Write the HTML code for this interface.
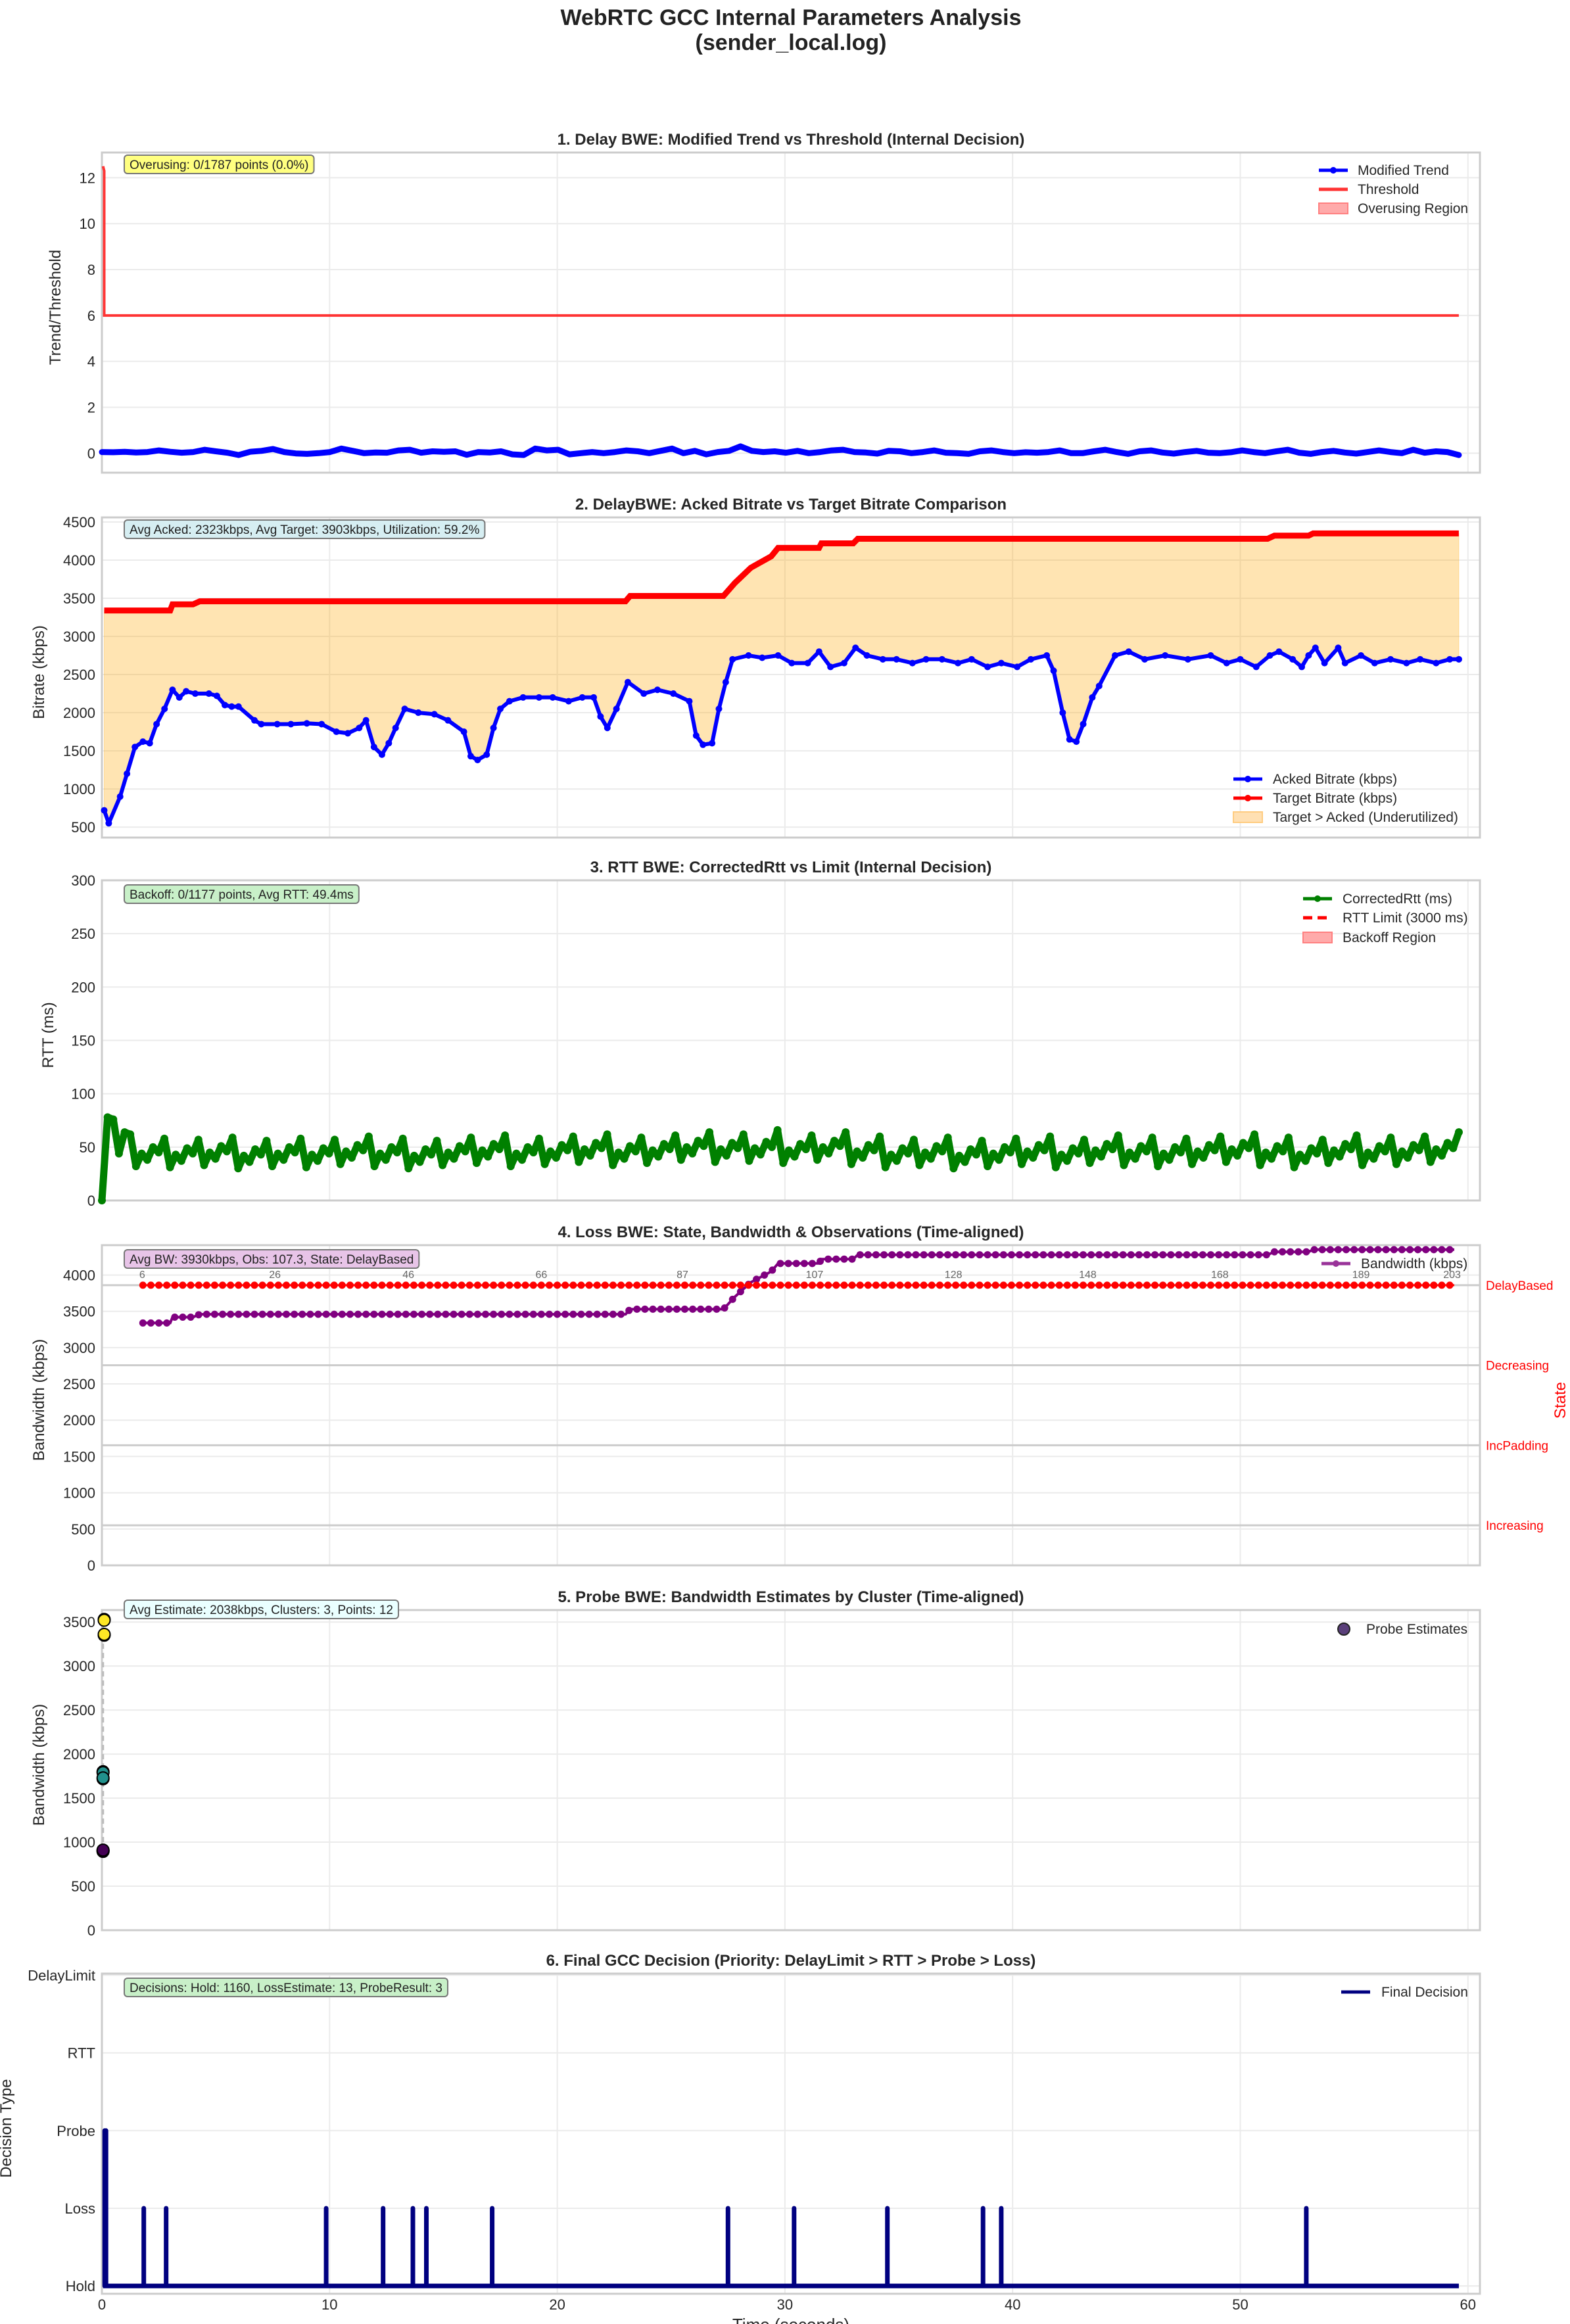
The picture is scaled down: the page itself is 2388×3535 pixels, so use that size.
<!DOCTYPE html>
<html><head><meta charset="utf-8"><style>
html,body{margin:0;padding:0;background:#fff}
svg{display:block;font-family:"Liberation Sans",Arial,sans-serif}
</style></head><body>
<svg id="fig" width="2388" height="3535" viewBox="0 0 2388 3535" xmlns="http://www.w3.org/2000/svg">
<rect width="2388" height="3535" fill="#fff"/>
<text x="1203" y="38" text-anchor="middle" font-size="34" font-weight="bold" fill="#222">WebRTC GCC Internal Parameters Analysis</text>
<text x="1203" y="76" text-anchor="middle" font-size="34" font-weight="bold" fill="#222">(sender_local.log)</text>
<g id="layer"></g>
</svg>
<script>
// ---------- data ----------
const trendV = [0.05,0.04,0.06,0.03,0.05,0.12,0.06,0.02,0.05,0.15,0.08,0.02,-0.08,0.06,0.1,0.18,0.05,-0.01,-0.03,0.0,0.05,0.2,0.1,0.0,0.03,0.02,0.12,0.15,0.02,0.08,0.06,0.08,-0.07,0.05,0.03,0.08,-0.05,-0.08,0.2,0.12,0.15,-0.05,0.0,0.05,0.0,0.05,0.12,0.08,0.0,0.1,0.2,0.0,0.1,-0.05,0.05,0.1,0.3,0.1,0.05,0.08,0.02,0.1,0.0,0.05,0.12,0.15,0.05,0.03,-0.02,0.1,0.08,0.0,0.05,0.12,0.02,0.0,-0.03,0.08,0.12,0.05,0.0,0.04,0.02,0.05,0.12,0.0,0.0,0.08,0.15,0.05,-0.03,0.08,0.12,0.03,-0.02,0.05,0.1,0.02,0.0,0.04,0.12,0.05,0.0,0.08,0.15,0.02,-0.03,0.05,0.1,0.03,-0.02,0.05,0.12,0.05,0.0,0.15,0.02,0.08,0.05,-0.08];
const trendStart = 0.0, trendEnd = 59.6;
const thT = [0.05,0.1,0.1,59.6];
const thV = [12.5,12.3,6,6];

const targetT = [0.1,3.0,3.1,4.0,4.3,23.0,23.2,27.3,27.8,28.5,29.4,29.7,31.5,31.6,33.0,33.2,51.2,51.5,53.0,53.2,59.6];
const targetV = [3340,3340,3420,3420,3460,3460,3530,3530,3700,3900,4050,4160,4160,4220,4220,4280,4280,4320,4320,4350,4350];
const ackedT = [0.1,0.3,0.8,1.1,1.45,1.8,2.1,2.4,2.75,3.1,3.4,3.7,4.1,4.7,5.05,5.4,5.7,6.0,6.7,7.0,7.7,8.3,9.0,9.65,10.3,10.8,11.3,11.6,11.95,12.3,12.6,12.9,13.3,13.9,14.6,15.2,15.9,16.2,16.5,16.9,17.2,17.5,17.9,18.5,19.2,19.8,20.5,21.1,21.6,21.9,22.2,22.6,23.1,23.8,24.4,25.1,25.8,26.1,26.4,26.8,27.1,27.4,27.7,28.4,29.0,29.7,30.3,31.0,31.5,32.0,32.6,33.1,33.6,34.3,34.9,35.6,36.2,36.9,37.6,38.2,38.9,39.5,40.2,40.8,41.5,41.8,42.2,42.5,42.8,43.1,43.5,43.8,44.5,45.1,45.8,46.7,47.7,48.7,49.4,50.0,50.7,51.3,51.7,52.3,52.7,53.0,53.3,53.7,54.3,54.6,55.3,55.9,56.6,57.3,57.9,58.6,59.2,59.6];
const ackedV = [720,550,900,1200,1550,1620,1600,1850,2050,2300,2200,2280,2250,2250,2220,2100,2080,2080,1900,1850,1850,1850,1860,1850,1750,1730,1800,1900,1550,1450,1600,1800,2050,2000,1980,1900,1750,1430,1380,1450,1800,2050,2150,2200,2200,2200,2150,2200,2200,1950,1800,2050,2400,2250,2300,2250,2150,1700,1580,1600,2050,2400,2700,2750,2720,2750,2650,2650,2800,2600,2650,2850,2750,2700,2700,2650,2700,2700,2650,2700,2600,2650,2600,2700,2750,2550,2000,1650,1620,1850,2200,2350,2750,2800,2700,2750,2700,2750,2650,2700,2600,2750,2800,2700,2600,2750,2850,2650,2850,2650,2750,2650,2700,2650,2700,2650,2700,2700];

const rttV = [0,78,76,44,64,62,
32,44,38,50,45,58, 31,43,37,49,44,57, 33,45,39,51,46,59, 30,42,36,48,43,56, 32,44,38,50,45,58,
31,43,37,49,44,57, 34,46,40,52,47,60, 32,44,38,50,45,58, 30,42,36,48,43,56, 33,45,39,51,46,59,
35,47,41,53,48,61, 32,44,38,50,45,58, 34,46,40,52,47,60, 36,48,42,54,49,62, 33,45,39,51,46,59,
35,47,41,53,48,61, 38,50,44,56,51,64, 36,48,42,54,49,62, 37,49,43,55,50,66, 35,47,41,53,48,61,
38,50,44,56,51,64, 34,46,40,52,47,60, 31,43,37,49,44,57, 33,45,39,51,46,59, 30,42,36,48,43,56,
32,44,38,50,45,58, 34,46,40,52,47,60, 31,43,37,49,44,57, 35,47,41,53,48,61, 33,45,39,51,46,59,
32,44,38,50,45,58, 34,46,40,52,47,60, 36,48,42,54,49,62, 33,45,39,51,46,59, 31,43,37,49,44,57,
35,47,41,53,48,61, 33,45,39,51,46,59, 34,46,40,52,47,60, 36,48,42,54,49,64];
const rttStart = 0.0, rttEnd = 59.6;

const bwT = [1.8,3.0,3.1,4.0,4.3,23.0,23.2,27.3,27.8,28.5,29.4,29.7,31.5,31.6,33.0,33.2,51.2,51.5,53.0,53.2,59.4];
const bwV = [3340,3340,3420,3420,3460,3460,3530,3530,3700,3900,4050,4160,4160,4220,4220,4280,4280,4320,4320,4350,4350];
const stateNames = ["Increasing","IncPadding","Decreasing","DelayBased"];
const stateRunT = [1.8,59.4];
const stateRunV = [3];
const idxLabels = [6,26,46,66,87,107,128,148,168,189,203];
const idxT = [1.77,7.6,13.46,19.3,25.5,31.3,37.4,43.3,49.1,55.3,59.3];

const probeT = [0.1,0.1,0.1,0.1,0.05,0.05,0.05,0.05,0.05,0.05,0.05,0.05];
const probeV = [3530,3520,3350,3360,1800,1790,1720,1730,900,905,895,910];
const probeCluster = [2,2,2,2,1,1,1,1,0,0,0,0];

const decisionNames = ["Hold","Loss","Probe","RTT","DelayLimit"];
const spikeT = [0.12,0.18,1.84,2.82,9.85,12.35,13.66,14.25,17.14,27.5,30.4,34.5,38.7,39.5,52.9];
const spikeV = [2,2,1,1,1,1,1,1,1,1,1,1,1,1,1];
const decStart = 0.05, decEnd = 59.6;

// ---------- layout ----------
const NS="http://www.w3.org/2000/svg";
const layer=document.getElementById('layer');
const X0=155, X1=2251, PXS=34.63, PH=487;
function sx(t){return X0+t*PXS;}
const panels=[
 {top:232,ymin:-0.85,ymax:13.1},
 {top:787,ymin:363,ymax:4560},
 {top:1339,ymin:0,ymax:300},
 {top:1894,ymin:0,ymax:4412},
 {top:2449,ymin:0,ymax:3636},
 {top:3002,ymin:-0.1,ymax:4.02}
];
function sy(p,v){const P=panels[p];return P.top+PH-(v-P.ymin)/(P.ymax-P.ymin)*PH;}
function syR(v){return panels[3].top+PH-(v+0.5)/4*PH;}
function el(tag,attrs,parent,text){const e=document.createElementNS(NS,tag);for(const k in attrs)e.setAttribute(k,attrs[k]);if(text!==undefined)e.textContent=text;(parent||layer).appendChild(e);return e;}
function pathFrom(ts,vs,fy){return ts.map((t,i)=>(i?'L':'M')+sx(t).toFixed(1)+','+fy(vs[i]).toFixed(1)).join(' ');}

const titles=["1. Delay BWE: Modified Trend vs Threshold (Internal Decision)","2. DelayBWE: Acked Bitrate vs Target Bitrate Comparison","3. RTT BWE: CorrectedRtt vs Limit (Internal Decision)","4. Loss BWE: State, Bandwidth & Observations (Time-aligned)","5. Probe BWE: Bandwidth Estimates by Cluster (Time-aligned)","6. Final GCC Decision (Priority: DelayLimit > RTT > Probe > Loss)"];
const ylabels=[["Trend/Threshold",100],["Bitrate (kbps)",75],["RTT (ms)",89],["Bandwidth (kbps)",75],["Bandwidth (kbps)",75],["Decision Type",25]];
const yticks=[[0,2,4,6,8,10,12],[500,1000,1500,2000,2500,3000,3500,4000,4500],[0,50,100,150,200,250,300],[0,500,1000,1500,2000,2500,3000,3500,4000],[0,500,1000,1500,2000,2500,3000,3500],[0,1,2,3,4]];
const xticks=[0,10,20,30,40,50,60];

panels.forEach((P,i)=>{
  const g=el('g',{});
  
  
  xticks.forEach(t=>{const l=el('line',{x1:sx(t),x2:sx(t),y1:P.top,y2:P.top+PH,stroke:'#ebebeb','stroke-width':2},g);});
  yticks[i].forEach(v=>{const y=sy(i,v);const l=el('line',{x1:X0,x2:X1,y1:y,y2:y,stroke:'#ebebeb','stroke-width':2},g);
    const lab= i===5?decisionNames[v]:String(v);
    const tx=el('text',{x:X0-10,y:y+8,'text-anchor':'end','font-size':22,fill:'#262626'},g,lab);});
  const fr=el('rect',{x:X0,y:P.top,width:X1-X0,height:PH,fill:'none',stroke:'#cccccc','stroke-width':3},g);
  
  const tt=el('text',{x:(X0+X1)/2,y:P.top-12,'text-anchor':'middle','font-size':24,'font-weight':'bold',fill:'#262626'},g,titles[i]);
  
  const yl=ylabels[i];const cy=P.top+PH/2;
  const yt=el('text',{x:yl[1],y:cy,'text-anchor':'middle','font-size':24,fill:'#262626',transform:'rotate(-90 '+(yl[1]-8)+' '+cy+')'},g,yl[0]);
  
});
xticks.forEach(t=>{const tx=el('text',{x:sx(t),y:3513,'text-anchor':'middle','font-size':22,fill:'#262626'},layer,String(t));});
const xt=el('text',{x:1203,y:3545,'text-anchor':'middle','font-size':26,fill:'#262626'},layer,'Time (seconds)');


// ---------- panel 1 ----------
{
 const dt=(trendEnd-trendStart)/(trendV.length-1);
 const ts=trendV.map((v,i)=>trendStart+i*dt);
 const th=el('path',{d:pathFrom(thT,thV,v=>sy(0,v)),fill:'none',stroke:'#ff2020','stroke-width':4,'stroke-opacity':0.9});
 
 const tr=el('path',{d:pathFrom(ts,trendV,v=>sy(0,v)),fill:'none',stroke:'#0000ff','stroke-width':9,'stroke-linejoin':'round','stroke-linecap':'round'});
 
}
// ---------- panel 2 ----------
{
 const fillD=pathFrom(targetT,targetV,v=>sy(1,v))+' '+ackedT.slice().reverse().map((t,i)=>'L'+sx(t).toFixed(1)+','+sy(1,ackedV[ackedV.length-1-i]).toFixed(1)).join(' ')+' Z';
 const f=el('path',{d:fillD,fill:'#ffa500','fill-opacity':0.3,stroke:'#ffa500','stroke-opacity':0.3,'stroke-width':1});
 
 const tg=el('path',{d:pathFrom(targetT,targetV,v=>sy(1,v)),fill:'none',stroke:'#ff0000','stroke-width':9});
 
 const ak=el('path',{d:pathFrom(ackedT,ackedV,v=>sy(1,v)),fill:'none',stroke:'#0000ff','stroke-width':6,'stroke-linejoin':'round'});
 
 ackedT.forEach((t,i)=>{const c=el('circle',{cx:sx(t),cy:sy(1,ackedV[i]),r:5,fill:'#0000ff'});});
}
// ---------- panel 3 ----------
{
 const dt=(rttEnd-rttStart)/(rttV.length-1);
 const ts=rttV.map((v,i)=>rttStart+i*dt);
 const ln=el('path',{d:pathFrom(ts,rttV,v=>sy(2,v)),fill:'none',stroke:'#008000','stroke-width':11,'stroke-linejoin':'round'});
 
 ts.forEach((t,i)=>{const c=el('circle',{cx:sx(t),cy:sy(2,rttV[i]),r:6,fill:'#008000'});});
}
// ---------- panel 4 ----------
{
 [0,1,2,3].forEach(s=>{const y=syR(s);const l=el('line',{x1:X0,x2:X1,y1:y,y2:y,stroke:'#cccccc','stroke-width':3});
  const tx=el('text',{x:2260,y:y+7,'font-size':19,fill:'#ff0000'},layer,stateNames[s]);});
 const st=el('text',{x:2389,y:2138,'text-anchor':'middle','font-size':24,fill:'#ff0000',transform:'rotate(-90 2381 2138)'},layer,'State');
 
 function bwAt(t){for(let i=1;i<bwT.length;i++){if(t<=bwT[i]){const a=bwT[i-1],b=bwT[i];return bwV[i-1]+(bwV[i]-bwV[i-1])*(t-a)/(b-a||1);}}return bwV[bwV.length-1];}
 const bl=el('path',{d:pathFrom(bwT,bwV,v=>sy(3,v)),fill:'none',stroke:'#800080','stroke-width':4});
 
 for(let t=bwT[0];t<=bwT[bwT.length-1]+1e-6;t+=0.35){
  const c=el('circle',{cx:sx(t),cy:sy(3,bwAt(t)),r:5.5,fill:'#800080'});
 }
 const sl=el('line',{x1:sx(stateRunT[0]),x2:sx(stateRunT[1]),y1:syR(stateRunV[0]),y2:syR(stateRunV[0]),stroke:'#ff0000','stroke-width':3});
 
 for(let t=stateRunT[0];t<=stateRunT[1]+1e-6;t+=0.35){
  const c=el('circle',{cx:sx(t),cy:syR(stateRunV[0]),r:5.5,fill:'#ff0000'});
 }
 idxLabels.forEach((n,i)=>{const tx=el('text',{x:sx(idxT[i]),y:1944,'text-anchor':'middle','font-size':16,fill:'#666'},layer,String(n));});
}
// ---------- panel 5 ----------
{
 const colors=['#440154','#21918c','#fde725'];
 const vmin=Math.min(...probeV),vmax=Math.max(...probeV);
 const dl=el('line',{x1:sx(0.05),x2:sx(0.05),y1:sy(4,vmin),y2:sy(4,vmax),stroke:'#bbb','stroke-width':3,'stroke-dasharray':'8,6'});
 
 probeT.forEach((t,i)=>{const c=el('circle',{cx:sx(t),cy:sy(4,probeV[i]),r:9,fill:colors[probeCluster[i]],stroke:'#000','stroke-width':2});});
}
// ---------- panel 6 ----------
{
 const fy=v=>sy(5,v);
 let d='M'+sx(decStart)+','+fy(0);
 spikeT.forEach((t,i)=>{d+=' L'+sx(t).toFixed(1)+','+fy(0)+' L'+sx(t).toFixed(1)+','+fy(spikeV[i]).toFixed(1)+' L'+sx(t).toFixed(1)+','+fy(0);});
 d+=' L'+sx(decEnd)+','+fy(0);
 const p=el('path',{d:d,fill:'none',stroke:'#000080','stroke-width':7,'stroke-linejoin':'round'});
 
}

// ---------- legends and annotations ----------
function box(x,y,h,fill,text,name){
  const r=el('rect',{x:x,y:y,width:100,height:h,rx:5,fill:fill,stroke:'#777','stroke-width':2});
  
  const t=el('text',{x:x+8,y:y+h/2+7,'font-size':19,fill:'#222'},layer,text);
  
  r.setAttribute('width',(t.getComputedTextLength()+16).toFixed(1));
}
box(189,236,28,'#ffff80','Overusing: 0/1787 points (0.0%)','overusing-annotation');
box(189,791,28,'#d6eef2','Avg Acked: 2323kbps, Avg Target: 3903kbps, Utilization: 59.2%','utilization-annotation');
box(189,1346,28,'#c8f0c8','Backoff: 0/1177 points, Avg RTT: 49.4ms','backoff-annotation');
box(189,1901,28,'#e8c4e8','Avg BW: 3930kbps, Obs: 107.3, State: DelayBased','loss-annotation');
box(189,2434,28,'#eaffff','Avg Estimate: 2038kbps, Clusters: 3, Points: 12','probe-annotation');
box(189,3009,28,'#c8f0c8','Decisions: Hold: 1160, LossEstimate: 13, ProbeResult: 3','decision-annotation');
function lline(x,y,color,name,dash,marker){const l=el('line',{x1:x,x2:x+44,y1:y,y2:y,stroke:color,'stroke-width':5});if(dash)l.setAttribute('stroke-dasharray',dash);
 if(marker){const c=el('circle',{cx:x+22,cy:y,r:5,fill:color});}}
function lpatch(x,y,fill,stroke,name){const r=el('rect',{x:x,y:y-8,width:44,height:16,fill:fill,stroke:stroke,'stroke-width':2});}
function ltext(x,y,t,name){const e=el('text',{x:x,y:y+7,'font-size':21,fill:'#262626'},layer,t);}
lline(2006,259,'#0000ff','legend-modified-trend',null,true);ltext(2065,259,'Modified Trend','legend-modified-trend-label');
lline(2006,288,'#ff3333','legend-threshold');ltext(2065,288,'Threshold','legend-threshold-label');
lpatch(2006,317,'#ffaaaa','#ff8080','legend-overusing');ltext(2065,317,'Overusing Region','legend-overusing-label');
lline(1876,1185,'#0000ff','legend-acked',null,true);ltext(1936,1185,'Acked Bitrate (kbps)','legend-acked-label');
lline(1876,1214,'#ff0000','legend-target',null,true);ltext(1936,1214,'Target Bitrate (kbps)','legend-target-label');
lpatch(1876,1243,'#ffe0b3','#ffcc80','legend-underutilized');ltext(1936,1243,'Target > Acked (Underutilized)','legend-underutilized-label');
lline(1982,1367,'#008000','legend-rtt',null,true);ltext(2042,1367,'CorrectedRtt (ms)','legend-rtt-label');
lline(1982,1396,'#ff0000','legend-rtt-limit','14,8');ltext(2042,1396,'RTT Limit (3000 ms)','legend-rtt-limit-label');
lpatch(1982,1426,'#ffaaaa','#ff8080','legend-backoff');ltext(2042,1426,'Backoff Region','legend-backoff-label');
lline(2010,1922,'#993399','legend-bandwidth',null,true);ltext(2070,1922,'Bandwidth (kbps)','legend-bandwidth-label');
const pc=el('circle',{cx:2044,cy:2478,r:9,fill:'#5a3f7a',stroke:'#222','stroke-width':2});
ltext(2078,2478,'Probe Estimates','legend-probe-label');
lline(2040,3030,'#000080','legend-final-decision');ltext(2101,3030,'Final Decision','legend-final-decision-label');
</script>
</body></html>
